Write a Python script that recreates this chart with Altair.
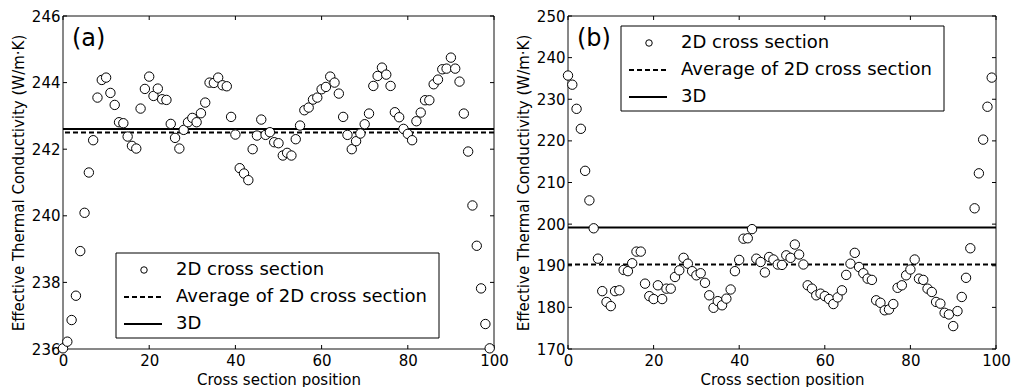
import altair as alt
import pandas as pd

FONT = "DejaVu Sans"

positions = list(range(100))

kappa_a = [
    236.02, 236.22, 236.87, 237.60, 238.94, 240.09, 241.30, 242.27, 243.55, 244.08,
    244.15, 243.69, 243.33, 242.81, 242.78, 242.38, 242.10, 242.02, 243.22, 243.81,
    244.18, 243.60, 243.82, 243.50, 243.48, 242.76, 242.34, 242.02, 242.58, 242.81,
    242.94, 242.81, 243.08, 243.40, 244.00, 243.99, 244.15, 243.92, 243.89, 242.97,
    242.44, 241.43, 241.27, 241.07, 242.00, 242.41, 242.89, 242.43, 242.51, 242.21,
    242.18, 241.81, 241.89, 241.81, 242.30, 242.71, 243.17, 243.25, 243.49, 243.55,
    243.80, 243.87, 244.18, 244.00, 243.67, 242.97, 242.43, 242.00, 242.24, 242.47,
    242.75, 243.07, 243.90, 244.20, 244.45, 244.24, 243.90, 243.11, 242.96, 242.61,
    242.46, 242.27, 242.84, 243.10, 243.47, 243.47, 243.95, 244.09, 244.40, 244.42,
    244.75, 244.42, 244.03, 243.07, 241.93, 240.31, 239.10, 237.82, 236.75, 236.02,
]
avg_a = 242.50
k3d_a = 242.61

kappa_b = [
    235.7, 233.5, 227.7, 222.9, 212.8, 205.7, 199.0, 191.7, 183.9, 181.3,
    180.3, 183.9, 184.1, 189.0, 188.7, 190.6, 193.4, 193.4, 185.7, 182.7,
    182.0, 185.3, 182.0, 184.5, 184.5, 187.3, 188.9, 191.9, 190.5, 188.7,
    187.7, 188.2, 185.9, 182.9, 179.9, 181.5, 180.5, 182.1, 184.3, 188.7,
    191.4, 196.5, 196.6, 198.8, 191.7, 190.9, 188.4, 192.1, 191.5, 190.3,
    190.2, 192.5, 191.9, 195.1, 192.7, 190.3, 185.3, 184.5, 182.9, 183.3,
    182.7, 182.0, 180.8, 182.4, 184.1, 187.8, 190.5, 193.1, 189.7, 188.2,
    186.9, 186.6, 181.7, 181.1, 179.3, 179.5, 180.8, 184.7, 185.3, 187.7,
    189.1, 191.5, 186.9, 186.6, 184.5, 183.7, 181.3, 180.9, 178.7, 178.3,
    175.5, 179.1, 182.5, 187.1, 194.2, 203.8, 212.2, 220.3, 228.2, 235.2,
]
avg_b = 190.3
k3d_b = 199.2

legend_labels = ["2D cross section", "Average of 2D cross section", "3D"]
panel_tags = ["(a)", "(b)"]
x_ticks = [0, 20, 40, 60, 80, 100]
y_ticks_a = [236, 238, 240, 242, 244, 246]
y_ticks_b = [170, 180, 190, 200, 210, 220, 230, 240, 250]
x_title = "Cross section position"
y_title = "Effective Thermal Conductivity (W/m\u00b7K)"

H = 333
TICK = 4


def one_row():
    return pd.DataFrame({"a": [0]})


def panel(vals, avg, k3d, ydom, yticks, tag, leg_top, W):
    xs = alt.Scale(domain=[0, 100], nice=False, zero=False)
    ys = alt.Scale(domain=ydom, nice=False, zero=False)
    xax = alt.Axis(
        values=x_ticks, title=x_title, ticks=False, domain=False, grid=False,
        labelFlush=False, labelOverlap=False, labelPadding=4, format="d",
        labelFontSize=15, titleFontSize=15, labelFont=FONT, titleFont=FONT,
        labelColor="black", titleColor="black", titleFontWeight="normal",
        titleX=W / 2, titleY=35, titleBaseline="alphabetic")
    yax = alt.Axis(
        values=yticks, title=y_title, ticks=False, domain=False, grid=False,
        labelFlush=False, labelOverlap=False, labelPadding=3, format="d",
        labelFontSize=15, titleFontSize=15, labelFont=FONT, titleFont=FONT,
        labelColor="black", titleColor="black", titleFontWeight="normal",
        titleX=-39.5, titleY=H / 2, titleAngle=270, titleBaseline="alphabetic")

    frame = alt.Chart(one_row()).mark_rect(
        fill="white", fillOpacity=0, stroke="#111111", strokeWidth=1
    ).encode(x=alt.value(0), x2=alt.value(W), y=alt.value(0), y2=alt.value(H))

    df = pd.DataFrame({"pos": positions, "k": vals})
    pts = alt.Chart(df).mark_point(
        shape="circle", filled=True, fill="white", stroke="black",
        strokeWidth=1, size=88, opacity=1
    ).encode(
        x=alt.X("pos:Q", scale=xs, axis=xax),
        y=alt.Y("k:Q", scale=ys, axis=yax),
    )

    avg_rule = alt.Chart(pd.DataFrame({"k": [avg]})).mark_rule(
        color="black", strokeWidth=2, strokeDash=[5, 3]
    ).encode(y=alt.Y("k:Q", scale=ys, axis=yax))
    k3d_rule = alt.Chart(pd.DataFrame({"k": [k3d]})).mark_rule(
        color="black", strokeWidth=2
    ).encode(y=alt.Y("k:Q", scale=ys, axis=yax))

    xt = pd.DataFrame({"pos": x_ticks})
    yt = pd.DataFrame({"k": yticks})
    tick_layers = [
        alt.Chart(xt).mark_rule(color="black", strokeWidth=1).encode(
            x=alt.X("pos:Q", scale=xs, axis=xax), y=alt.value(H), y2=alt.value(H - TICK)),
        alt.Chart(xt).mark_rule(color="black", strokeWidth=1).encode(
            x=alt.X("pos:Q", scale=xs, axis=xax), y=alt.value(0), y2=alt.value(TICK)),
        alt.Chart(yt).mark_rule(color="black", strokeWidth=1).encode(
            y=alt.Y("k:Q", scale=ys, axis=yax), x=alt.value(0), x2=alt.value(TICK)),
        alt.Chart(yt).mark_rule(color="black", strokeWidth=1).encode(
            y=alt.Y("k:Q", scale=ys, axis=yax), x=alt.value(W - TICK), x2=alt.value(W)),
    ]

    box = alt.Chart(one_row()).mark_rect(
        fill="white", stroke="black", strokeWidth=1
    ).encode(x=alt.value(53), x2=alt.value(376), y=alt.value(leg_top), y2=alt.value(leg_top + 85))
    leg_pt = alt.Chart(one_row()).mark_point(
        shape="circle", filled=True, fill="white", stroke="black", strokeWidth=1, size=42, opacity=1
    ).encode(x=alt.value(81), y=alt.value(leg_top + 17))
    leg_dash = alt.Chart(one_row()).mark_rule(
        color="black", strokeWidth=2, strokeDash=[5, 3]
    ).encode(x=alt.value(61), x2=alt.value(98), y=alt.value(leg_top + 44))
    leg_solid = alt.Chart(one_row()).mark_rule(color="black", strokeWidth=2).encode(
        x=alt.value(61), x2=alt.value(99), y=alt.value(leg_top + 71))
    leg_texts = [
        alt.Chart(one_row()).mark_text(
            align="left", baseline="middle", fontSize=18, font=FONT, color="black"
        ).encode(x=alt.value(113), y=alt.value(leg_top + 17 + 27 * i), text=alt.value(lab))
        for i, lab in enumerate(legend_labels)
    ]
    tag_txt = alt.Chart(one_row()).mark_text(
        align="left", baseline="alphabetic", fontSize=24, font=FONT, color="black"
    ).encode(x=alt.value(9), y=alt.value(29.5), text=alt.value(tag))

    return alt.layer(
        frame, *tick_layers, avg_rule, k3d_rule, pts, box, leg_pt, leg_dash, leg_solid,
        *leg_texts, tag_txt
    ).properties(width=W, height=H)


pa = panel(kappa_a, avg_a, k3d_a, [236, 246], y_ticks_a, panel_tags[0], 237, 431)
pb = panel(kappa_b, avg_b, k3d_b, [170, 250], y_ticks_b, panel_tags[1], 10, 428)

chart = alt.hconcat(pa, pb, spacing=7).properties(
    padding={"left": 11, "top": 9, "right": 0, "bottom": 0}
).configure(background="white").configure_view(strokeWidth=0)

chart.save("out.html", embed_options={"renderer": "svg", "actions": False})
